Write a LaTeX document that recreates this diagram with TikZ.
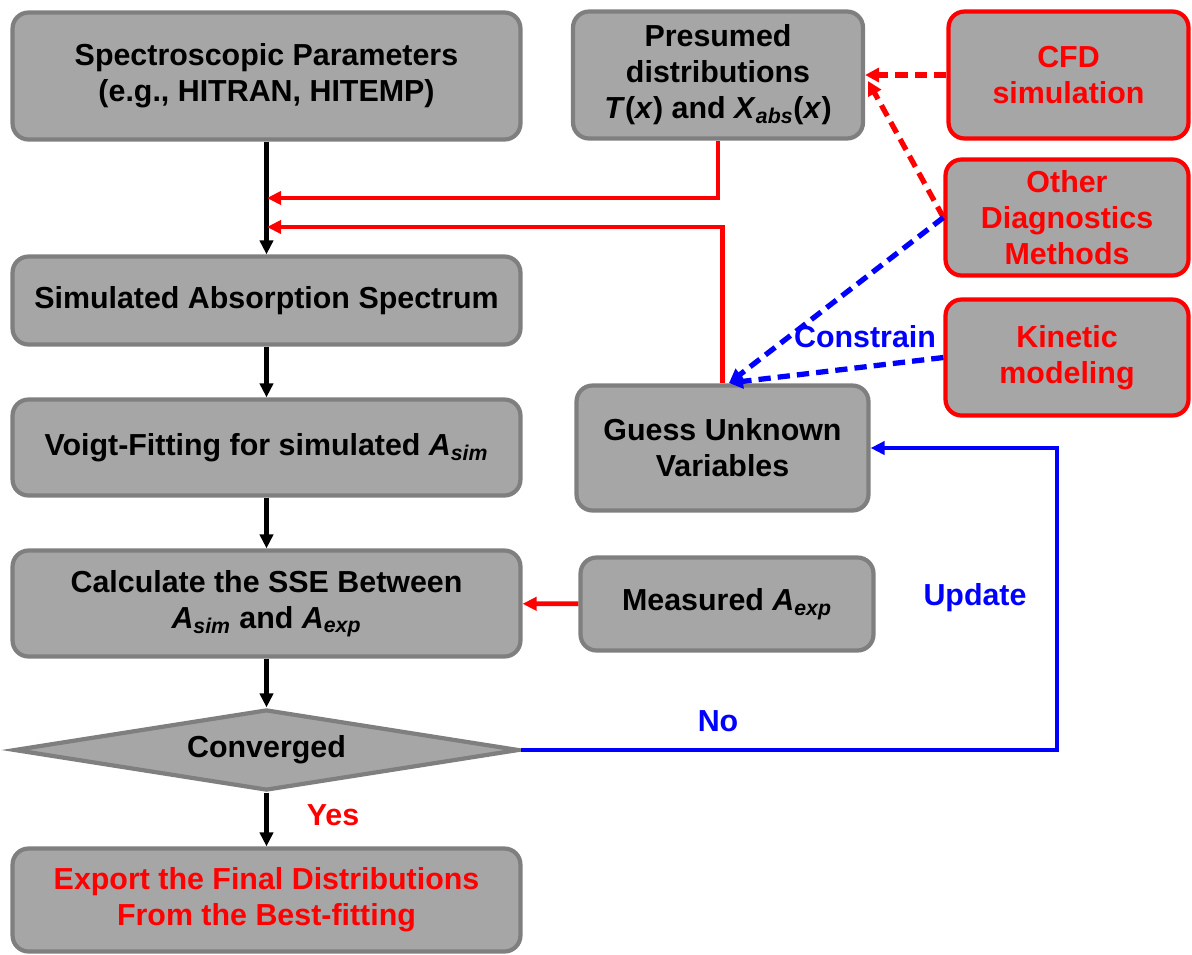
\documentclass[tikz,border=0pt]{standalone}
\usepackage{fontspec}
\setmainfont{Liberation Sans}
\usetikzlibrary{arrows.meta,shapes.geometric}

\definecolor{boxgray}{HTML}{A6A6A6}
\definecolor{edgegray}{HTML}{7F7F7F}
\definecolor{flowred}{HTML}{FF0000}
\definecolor{flowblue}{HTML}{0000FF}

\newcommand{\Asim}{\textit{A}\textsubscript{\textit{sim}}}
\newcommand{\Aexp}{\textit{A}\textsubscript{\textit{exp}}}

\begin{document}
\begin{tikzpicture}[x=0.02cm, y=-0.02cm,
    box/.style={rectangle, rounded corners=0.32cm, fill=boxgray, draw=edgegray,
        line width=2.4pt, align=center, inner sep=0pt,
        font=\fontsize{17.3}{20.5}\selectfont\bfseries},
    redbox/.style={box, draw=flowred, text=flowred},
    tag/.style={font=\fontsize{17.3}{20.5}\selectfont\bfseries},
    flow/.style={line width=2.7pt, -{Triangle[length=8pt,width=7.5pt]}},
    feed/.style={flow, flowred},
    hint/.style={line width=3pt, dash pattern=on 7pt off 4pt, -{Triangle[length=8pt,width=8pt]}}
]

    \def\colwidth{10.16cm}
    \def\sidewidth{5.8cm}
    \def\srcwidth{4.8cm}

    \useasboundingbox (0,0) rectangle (1192,954);

    % Columna izquierda
    \node[box, minimum width=\colwidth, minimum height=2.54cm] (spectro) at (266.5,76)
        {Spectroscopic Parameters\\(e.g., HITRAN, HITEMP)};
    \node[box, minimum width=\colwidth, minimum height=1.76cm] (sim) at (266.5,300.5)
        {Simulated Absorption Spectrum};
    \node[box, minimum width=\colwidth, minimum height=1.92cm] (voigt) at (266.5,447.5)
        {Voigt-Fitting for simulated \Asim};
    \node[box, minimum width=\colwidth, minimum height=2.12cm] (calc) at (266.5,603.5)
        {Calculate the SSE Between\\\Asim{} and \Aexp};
    \node[box, shape=diamond, aspect=6, minimum width=10.1cm, minimum height=1.62cm,
        rounded corners=0pt] (conv) at (266.5,750) {Converged};
    \node[box, text=flowred, minimum width=\colwidth, minimum height=2.06cm] (export) at (266.5,900)
        {Export the Final Distributions\\From the Best-fitting};

    % Columna derecha
    \node[box, minimum width=\sidewidth, minimum height=2.54cm] (presumed) at (718,75)
        {Presumed\\distributions\\\textit{T}(\textit{x}) and \textit{X}\textsubscript{\textit{abs}}(\textit{x})};
    \node[box, minimum width=5.84cm, minimum height=2.5cm] (guess) at (722.5,448)
        {Guess Unknown\\Variables};
    \node[box, minimum width=5.86cm, minimum height=1.86cm] (measured) at (727,604)
        {Measured \Aexp};

    \node[redbox, minimum width=\srcwidth, minimum height=2.54cm] (cfd) at (1068.5,75)
        {CFD\\simulation};
    \node[redbox, minimum width=4.86cm, minimum height=2.32cm] (other) at (1067,217.5)
        {Other\\Diagnostics\\Methods};
    \node[redbox, minimum width=4.86cm, minimum height=2.32cm] (kinetic) at (1067,357.5)
        {Kinetic\\modeling};

    % Puntos de union
    \coordinate (joinA) at (267,198);
    \coordinate (joinB) at (267,227);
    \coordinate (presumedtip) at (868,81);
    \coordinate (guesstip) at (729,383);
    \coordinate (turn) at (1057,750);

    % Flujo principal
    \draw[flow] (spectro) -- (sim);
    \draw[flow] (sim) -- (voigt);
    \draw[flow] (voigt) -- (calc);
    \draw[flow] (calc) -- (conv);
    \draw[flow] (conv) -- (export);

    \draw[feed] (presumed.south) |- (joinA);
    \draw[feed] (guess.north) |- (joinB);
    \draw[feed] (measured) -- (calc);

    \draw[hint, flowred] (cfd.west) -- (presumed.east);
    \draw[hint, flowred] (other.west) -- (presumedtip);
    \draw[hint, flowblue] (other.west) -- (guesstip);
    \draw[hint, flowblue] (kinetic.west) -- (guesstip);

    \draw[flow, flowblue] (conv.east) -- (turn) |- (guess.east);

    % Etiquetas
    \node[tag, text=flowblue] (constrain) at (865,337) {Constrain};
    \node[tag, text=flowblue] (update) at (975,598) {Update};
    \node[tag, text=flowblue] (no) at (718,721) {No};
    \node[tag, text=flowred] (yes) at (333,815) {Yes};

\end{tikzpicture}
\end{document}
